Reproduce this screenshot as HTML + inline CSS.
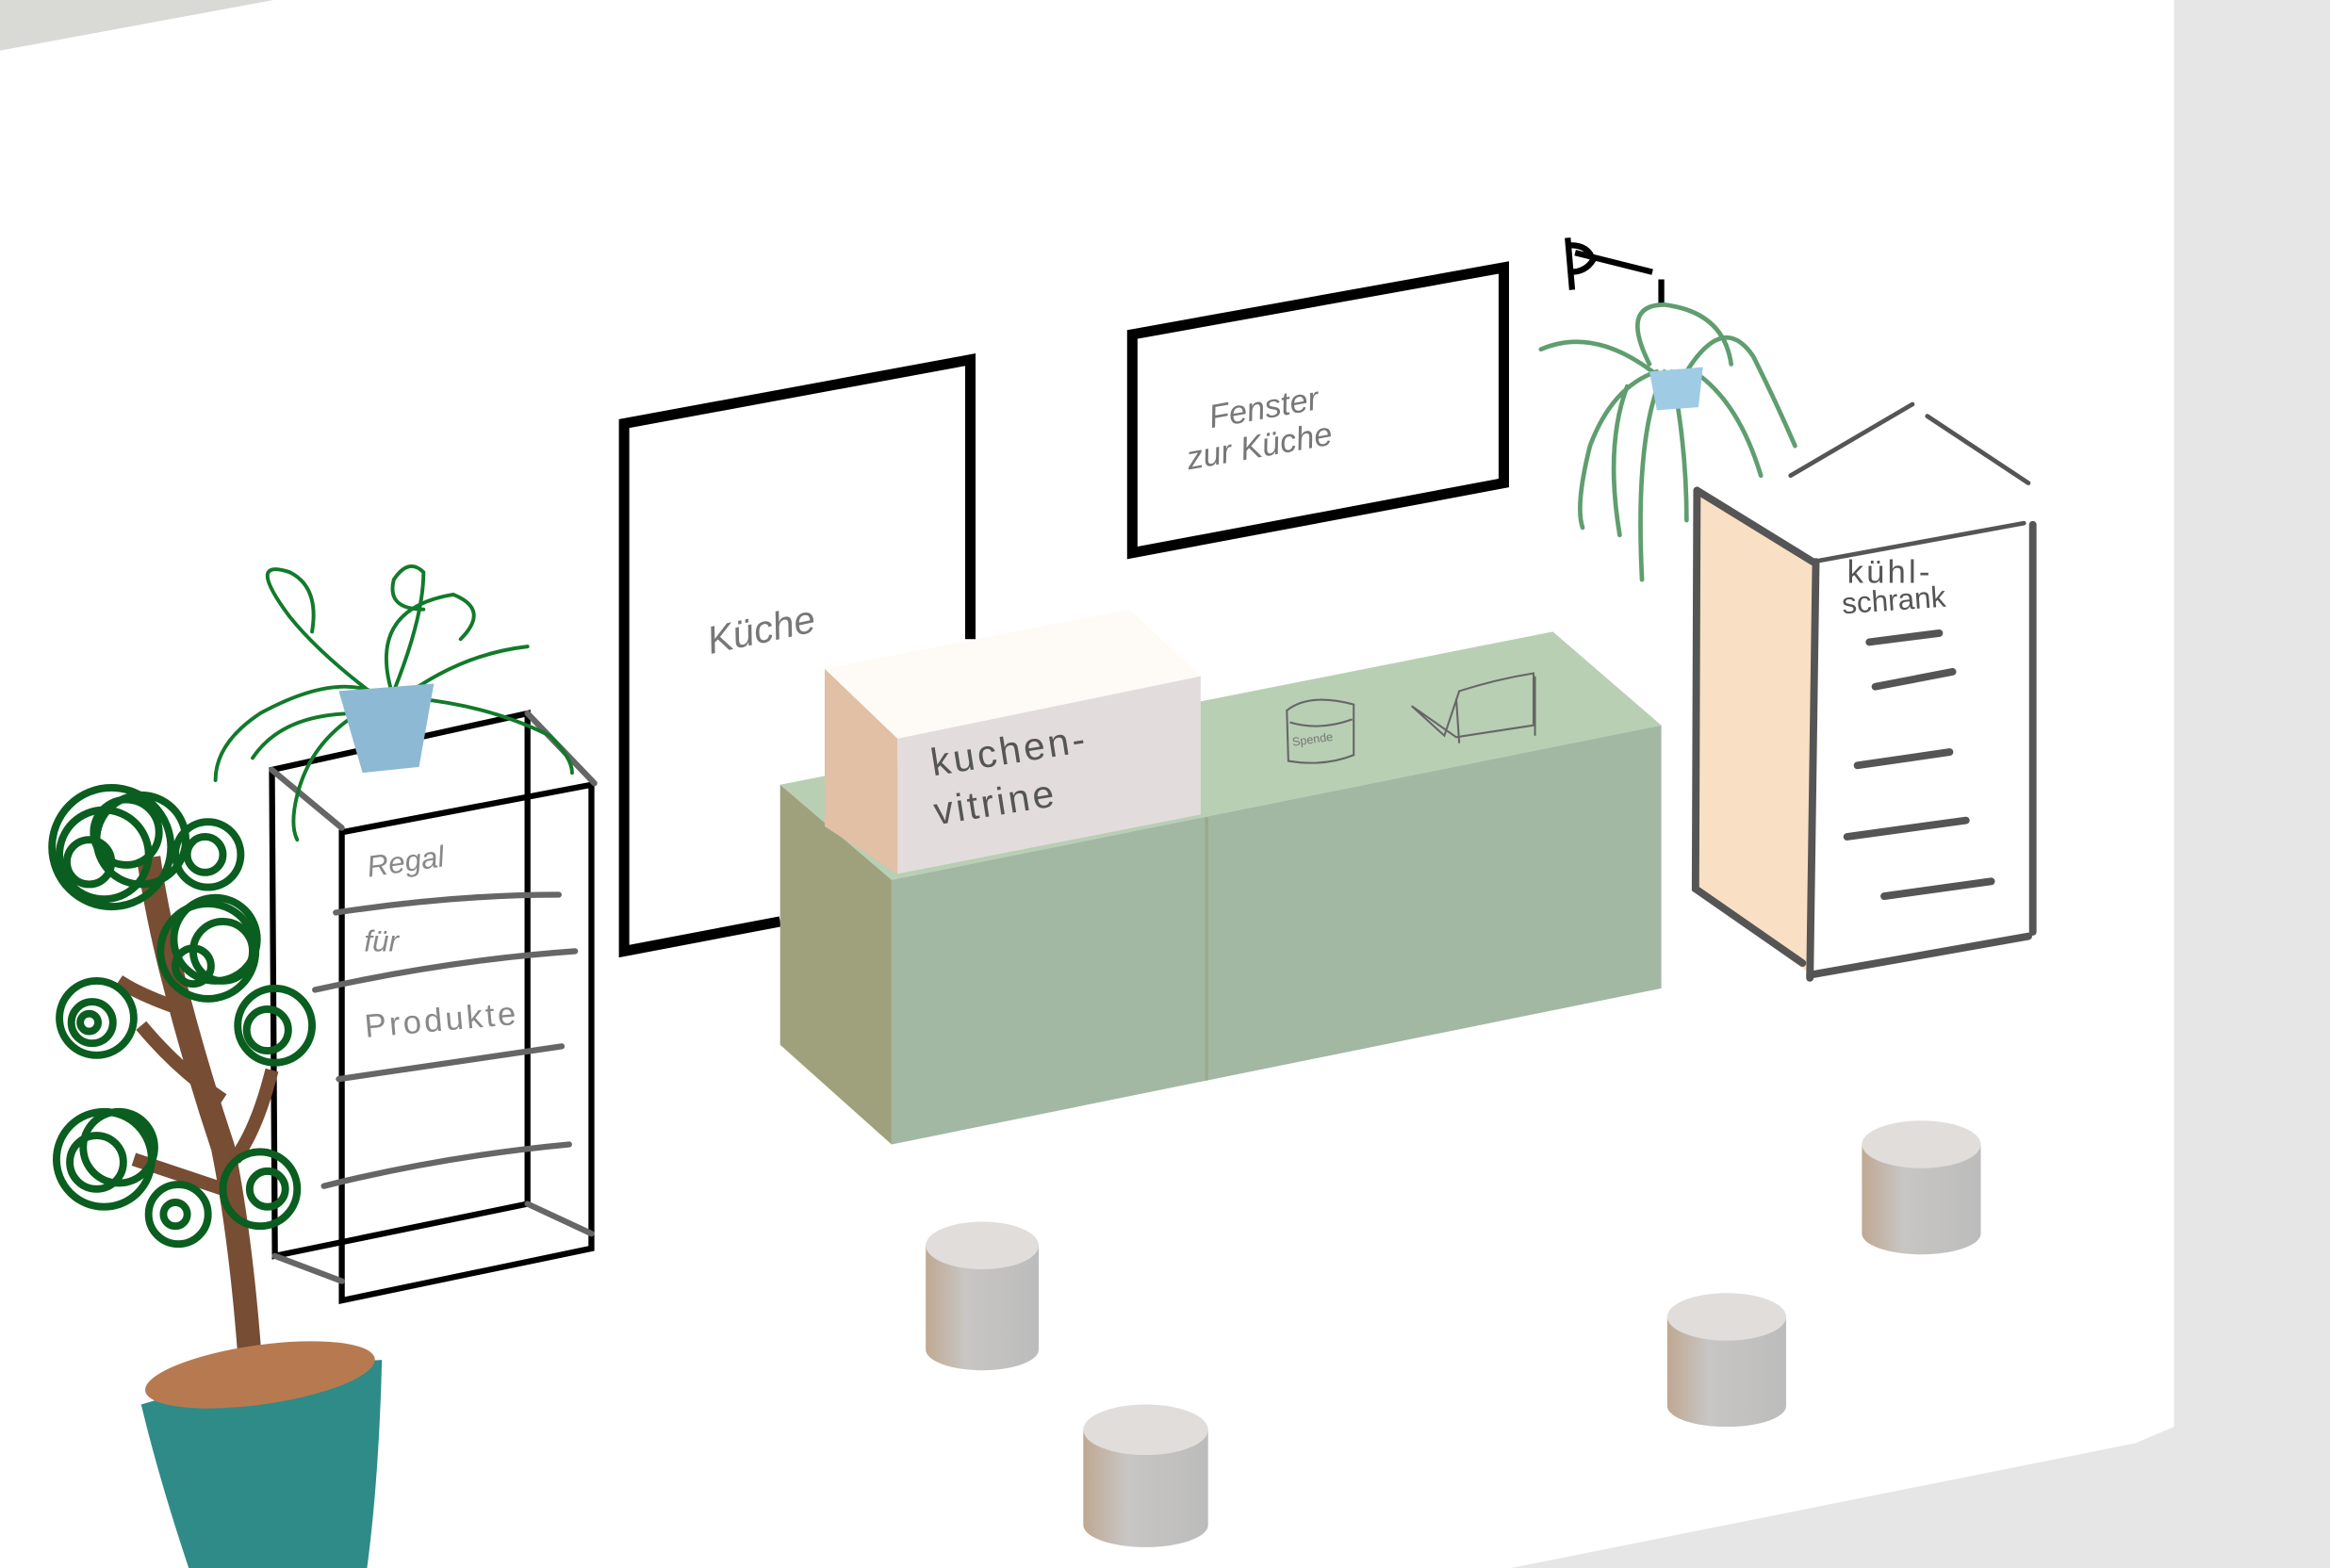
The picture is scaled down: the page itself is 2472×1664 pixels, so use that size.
<!DOCTYPE html>
<html><head><meta charset="utf-8"><style>
html,body{margin:0;padding:0;background:#e6e6e6;}
svg{display:block;}
text{font-family:"Liberation Sans",sans-serif;}
</style></head><body>
<svg width="2472" height="1664" viewBox="0 0 1568 1055" preserveAspectRatio="none" xmlns="http://www.w3.org/2000/svg">
<defs>
<linearGradient id="cyl" x1="0" x2="1" y1="0" y2="0">
<stop offset="0" stop-color="#bfa892"/><stop offset="0.35" stop-color="#c8c6c4"/><stop offset="1" stop-color="#bcbcbc"/>
</linearGradient>
</defs>
<rect width="1568" height="1055" fill="#e6e6e6"/>
<polygon points="0,34 184,0 1463,0 1463,960 1437,971 1017,1055 0,1055" fill="#ffffff"/>
<polygon points="0,0 184,0 0,34" fill="#d9d9d6"/>

<polyline points="653,430 653,242 420,285 420,640 525,620" fill="none" stroke="#000" stroke-width="7"/>
<text x="478" y="440" font-size="26" fill="#777" transform="rotate(-12 478 440)" font-style="italic">Küche</text>

<polygon points="762,225 1012,180 1012,325 762,372" fill="#fff" stroke="#000" stroke-width="7"/>
<text x="815" y="288" font-size="22" fill="#777" font-style="italic" transform="rotate(-10 815 288)">Fenster</text>
<text x="800" y="316" font-size="22" fill="#777" font-style="italic" transform="rotate(-10 800 316)">zur Küche</text>

<polygon points="525,528 1045,425 1118,488 600,592" fill="#b8cfb4"/>
<polygon points="600,592 1118,488 1118,665 600,770" fill="#a2b8a3"/>
<polygon points="525,528 600,592 600,770 525,703" fill="#9fa17c"/>
<line x1="812" y1="550" x2="812" y2="727" stroke="#9aa88a" stroke-width="2"/>

<g fill="none" stroke="#666" stroke-width="1.3">
<path d="M866,478 q15,-12 45,-4 l0,34 q-20,8 -44,4 z"/>
<path d="M868,486 q20,6 42,-2"/>
<path d="M950,475 l22,20 l10,-30 q25,-8 50,-12 l0,35 l-52,8 z"/>
<path d="M980,470 l2,30 M1033,455 l0,40"/>
</g>
<text x="870" y="502" font-size="8" fill="#777" transform="rotate(-8 870 502)">Spende</text>

<polygon points="555,450 760,410 808,455 604,497" fill="#fefaf6"/>
<polygon points="555,450 604,497 604,588 555,556" fill="#e1c0a6"/>
<polygon points="604,497 808,455 808,548 604,588" fill="#e3dcdd"/>
<text x="628" y="522" font-size="26" fill="#555" transform="rotate(-9 628 522)" letter-spacing="2">kuchen-</text>
<text x="630" y="555" font-size="26" fill="#555" transform="rotate(-9 630 555)" letter-spacing="2">vitrine</text>

<polygon points="1142,330 1222,378 1218,655 1142,600" fill="#f9dfc4"/>
<polygon points="1222,378 1368,352 1368,625 1218,655" fill="#fff"/>
<g fill="none" stroke="#555" stroke-width="5" stroke-linecap="round">
<path d="M1142,330 L1220,378 M1222,378 L1218,658 M1142,330 L1141,598 L1213,648"/>
<path d="M1368,353 L1368,627 M1218,656 L1365,630"/>
<path d="M1205,320 L1287,272 M1297,280 L1365,325 M1220,378 L1362,352" stroke-width="3"/>
<path d="M1258,432 L1305,426 M1262,462 L1314,452 M1250,515 L1312,506 M1243,563 L1323,552 M1268,603 L1340,593"/>
</g>
<text x="1243" y="392" font-size="22" fill="#555" letter-spacing="2">kühl-</text>
<text x="1240" y="413" font-size="20" fill="#555" transform="rotate(-4 1240 413)">schrank</text>

<path d="M1055,160 L1058,195 M1057,165 q12,0 15,10 q-5,8 -15,8 M1060,170 L1112,183 M1118,188 L1118,205" fill="none" stroke="#000" stroke-width="4"/>
<g fill="none" stroke="#5f9e6e" stroke-width="3" stroke-linecap="round">
<path d="M1112,250 q-40,-30 -75,-15"/>
<path d="M1115,250 q-30,10 -45,50 q-10,40 -5,55"/>
<path d="M1120,250 q-20,40 -15,140"/>
<path d="M1125,250 q10,50 10,100"/>
<path d="M1135,250 q25,-40 45,-10 q15,30 28,60"/>
<path d="M1140,250 q30,20 45,70"/>
<path d="M1110,245 q-20,-40 10,-40 q40,5 45,40"/>
<path d="M1095,260 q-15,40 -5,100"/>
</g>
<polygon points="1110,250 1146,247 1143,274 1115,276" fill="#9fcbe5"/>

<g fill="none" stroke="#000" stroke-width="4">
<polygon points="183,518 355,480 355,810 185,845"/>
<polygon points="230,560 398,528 398,840 230,875"/>
</g>
<g fill="none" stroke="#666" stroke-width="4" stroke-linecap="round">
<path d="M183,518 L230,557 M355,480 L400,527 M185,845 L230,862 M355,810 L398,830"/>
<path d="M226,614 q80,-12 150,-12 M212,666 q90,-20 175,-26 M228,726 q80,-12 150,-22 M218,798 q80,-20 165,-28"/>
</g>
<text x="248" y="590" font-size="20" fill="#888" transform="rotate(-8 248 590)" font-style="italic">Regal</text>
<text x="245" y="640" font-size="20" fill="#888" font-style="italic">für</text>
<text x="246" y="698" font-size="22" fill="#888" transform="rotate(-5 246 698)" letter-spacing="2">Produkte</text>

<g fill="none" stroke="#127a2a" stroke-width="2.5" stroke-linecap="round">
<path d="M255,470 q-40,-30 -60,-55 q-30,-40 0,-30 q20,10 15,40"/>
<path d="M260,470 q-30,-20 -85,10 q-30,20 -30,45"/>
<path d="M265,465 q20,-50 20,-80 q-10,-10 -20,5 q-5,20 20,20"/>
<path d="M270,470 q40,-30 85,-35"/>
<path d="M280,470 q50,5 90,25 q15,15 15,25"/>
<path d="M250,475 q-40,20 -50,60 q-5,20 0,30"/>
<path d="M240,480 q-50,0 -70,30"/>
<path d="M265,470 q-20,-60 40,-70 q25,10 5,30"/>
</g>
<polygon points="228,465 292,460 282,516 244,520" fill="#8db9d4"/>

<path d="M168,912 q-6,-80 -18,-140 q-20,-60 -35,-120 q-10,-40 -15,-75" fill="none" stroke="#774d33" stroke-width="16"/>
<path d="M150,740 q-30,-20 -55,-50 M125,680 q-30,-10 -45,-20 M150,800 q-30,-10 -60,-20 M158,780 q15,-20 25,-60" fill="none" stroke="#774d33" stroke-width="9"/>
<g fill="none" stroke="#0a5e1f" stroke-width="5">
<circle cx="75" cy="570" r="40"/><circle cx="70" cy="575" r="30"/><circle cx="85" cy="560" r="22"/><circle cx="60" cy="580" r="15"/><circle cx="95" cy="565" r="30"/>
<circle cx="140" cy="575" r="22"/><circle cx="138" cy="575" r="12"/>
<circle cx="140" cy="640" r="32"/><circle cx="150" cy="640" r="20"/><circle cx="130" cy="650" r="12"/><circle cx="145" cy="632" r="28"/>
<circle cx="185" cy="690" r="25"/><circle cx="180" cy="693" r="14"/>
<circle cx="65" cy="685" r="25"/><circle cx="62" cy="688" r="14"/><circle cx="60" cy="688" r="6"/>
<circle cx="70" cy="780" r="32"/><circle cx="65" cy="782" r="18"/><circle cx="80" cy="772" r="24"/>
<circle cx="120" cy="817" r="20"/><circle cx="118" cy="817" r="8"/>
<circle cx="175" cy="800" r="25"/><circle cx="180" cy="800" r="12"/>
</g>
<path d="M95,945 q80,-25 162,-30 q-2,80 -10,140 l-120,0 q-20,-60 -32,-110 z" fill="#2e8b88"/>
<ellipse cx="175" cy="925" rx="78" ry="20" fill="#b77a50" transform="rotate(-8 175 925)"/>

<g>
<path d="M623,838 l0,70 a38,14 0 0 0 76,0 l0,-70 z" fill="url(#cyl)"/>
<ellipse cx="661" cy="838" rx="38" ry="16" fill="#e0dddb"/>
<path d="M729,962 l0,64 a42,15 0 0 0 84,0 l0,-64 z" fill="url(#cyl)"/>
<ellipse cx="771" cy="962" rx="42" ry="17" fill="#e0dddb"/>
<path d="M1122,886 l0,60 a40,14 0 0 0 80,0 l0,-60 z" fill="url(#cyl)"/>
<ellipse cx="1162" cy="886" rx="40" ry="16" fill="#e0dddb"/>
<path d="M1253,770 l0,60 a40,14 0 0 0 80,0 l0,-60 z" fill="url(#cyl)"/>
<ellipse cx="1293" cy="770" rx="40" ry="16" fill="#e0dddb"/>
</g>
</svg>
</body></html>
